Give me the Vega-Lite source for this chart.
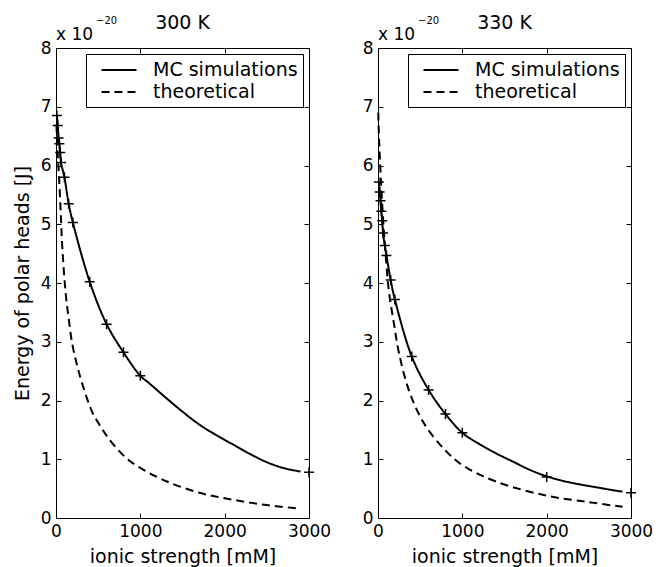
{
  "$schema": "https://vega.github.io/schema/vega-lite/v6.json",
  "background": "white",
  "padding": {"left": 12, "top": 13, "right": 8, "bottom": 2},
  "datasets": {
    "lines": [
      {"T": "300 K", "series": "MC simulations", "I": 10, "E": 6.85},
      {"T": "300 K", "series": "MC simulations", "I": 20, "E": 6.68},
      {"T": "300 K", "series": "MC simulations", "I": 30, "E": 6.47},
      {"T": "300 K", "series": "MC simulations", "I": 40, "E": 6.37},
      {"T": "300 K", "series": "MC simulations", "I": 50, "E": 6.22},
      {"T": "300 K", "series": "MC simulations", "I": 60, "E": 6.05},
      {"T": "300 K", "series": "MC simulations", "I": 100, "E": 5.8},
      {"T": "300 K", "series": "MC simulations", "I": 150, "E": 5.35},
      {"T": "300 K", "series": "MC simulations", "I": 200, "E": 5.03},
      {"T": "300 K", "series": "MC simulations", "I": 400, "E": 4.02},
      {"T": "300 K", "series": "MC simulations", "I": 600, "E": 3.3},
      {"T": "300 K", "series": "MC simulations", "I": 800, "E": 2.82},
      {"T": "300 K", "series": "MC simulations", "I": 1000, "E": 2.42},
      {"T": "300 K", "series": "MC simulations", "I": 1100, "E": 2.3},
      {"T": "300 K", "series": "MC simulations", "I": 1300, "E": 2.05},
      {"T": "300 K", "series": "MC simulations", "I": 1500, "E": 1.81},
      {"T": "300 K", "series": "MC simulations", "I": 1700, "E": 1.59},
      {"T": "300 K", "series": "MC simulations", "I": 1900, "E": 1.41},
      {"T": "300 K", "series": "MC simulations", "I": 2100, "E": 1.25},
      {"T": "300 K", "series": "MC simulations", "I": 2300, "E": 1.09},
      {"T": "300 K", "series": "MC simulations", "I": 2500, "E": 0.95},
      {"T": "300 K", "series": "MC simulations", "I": 2700, "E": 0.85},
      {"T": "300 K", "series": "MC simulations", "I": 2900, "E": 0.79},
      {"T": "300 K", "series": "theoretical", "I": 5, "E": 6.7},
      {"T": "300 K", "series": "theoretical", "I": 10, "E": 6.5},
      {"T": "300 K", "series": "theoretical", "I": 20, "E": 6.2},
      {"T": "300 K", "series": "theoretical", "I": 36, "E": 5.8},
      {"T": "300 K", "series": "theoretical", "I": 56, "E": 5.2},
      {"T": "300 K", "series": "theoretical", "I": 75, "E": 4.6},
      {"T": "300 K", "series": "theoretical", "I": 115, "E": 3.82},
      {"T": "300 K", "series": "theoretical", "I": 150, "E": 3.4},
      {"T": "300 K", "series": "theoretical", "I": 193, "E": 2.96},
      {"T": "300 K", "series": "theoretical", "I": 250, "E": 2.6},
      {"T": "300 K", "series": "theoretical", "I": 312, "E": 2.28},
      {"T": "300 K", "series": "theoretical", "I": 430, "E": 1.8},
      {"T": "300 K", "series": "theoretical", "I": 510, "E": 1.6},
      {"T": "300 K", "series": "theoretical", "I": 600, "E": 1.4},
      {"T": "300 K", "series": "theoretical", "I": 710, "E": 1.2},
      {"T": "300 K", "series": "theoretical", "I": 850, "E": 1.0},
      {"T": "300 K", "series": "theoretical", "I": 990, "E": 0.86},
      {"T": "300 K", "series": "theoretical", "I": 1300, "E": 0.63},
      {"T": "300 K", "series": "theoretical", "I": 1700, "E": 0.43},
      {"T": "300 K", "series": "theoretical", "I": 2100, "E": 0.31},
      {"T": "300 K", "series": "theoretical", "I": 2500, "E": 0.22},
      {"T": "300 K", "series": "theoretical", "I": 2900, "E": 0.16},
      {"T": "330 K", "series": "MC simulations", "I": 10, "E": 5.72},
      {"T": "330 K", "series": "MC simulations", "I": 20, "E": 5.55},
      {"T": "330 K", "series": "MC simulations", "I": 30, "E": 5.4},
      {"T": "330 K", "series": "MC simulations", "I": 40, "E": 5.22},
      {"T": "330 K", "series": "MC simulations", "I": 50, "E": 5.06},
      {"T": "330 K", "series": "MC simulations", "I": 60, "E": 4.85},
      {"T": "330 K", "series": "MC simulations", "I": 80, "E": 4.64},
      {"T": "330 K", "series": "MC simulations", "I": 100, "E": 4.47},
      {"T": "330 K", "series": "MC simulations", "I": 150, "E": 4.05},
      {"T": "330 K", "series": "MC simulations", "I": 200, "E": 3.72},
      {"T": "330 K", "series": "MC simulations", "I": 400, "E": 2.75},
      {"T": "330 K", "series": "MC simulations", "I": 600, "E": 2.18},
      {"T": "330 K", "series": "MC simulations", "I": 800, "E": 1.77},
      {"T": "330 K", "series": "MC simulations", "I": 1000, "E": 1.45},
      {"T": "330 K", "series": "MC simulations", "I": 1200, "E": 1.26},
      {"T": "330 K", "series": "MC simulations", "I": 1400, "E": 1.1},
      {"T": "330 K", "series": "MC simulations", "I": 1600, "E": 0.96},
      {"T": "330 K", "series": "MC simulations", "I": 1800, "E": 0.82},
      {"T": "330 K", "series": "MC simulations", "I": 2000, "E": 0.71},
      {"T": "330 K", "series": "MC simulations", "I": 2200, "E": 0.63},
      {"T": "330 K", "series": "MC simulations", "I": 2400, "E": 0.57},
      {"T": "330 K", "series": "MC simulations", "I": 2600, "E": 0.52},
      {"T": "330 K", "series": "MC simulations", "I": 2800, "E": 0.47},
      {"T": "330 K", "series": "MC simulations", "I": 2900, "E": 0.45},
      {"T": "330 K", "series": "theoretical", "I": 3, "E": 6.9},
      {"T": "330 K", "series": "theoretical", "I": 10, "E": 6.55},
      {"T": "330 K", "series": "theoretical", "I": 20, "E": 6.2},
      {"T": "330 K", "series": "theoretical", "I": 40, "E": 5.6},
      {"T": "330 K", "series": "theoretical", "I": 60, "E": 5.1},
      {"T": "330 K", "series": "theoretical", "I": 100, "E": 4.3},
      {"T": "330 K", "series": "theoretical", "I": 130, "E": 3.85},
      {"T": "330 K", "series": "theoretical", "I": 190, "E": 3.3},
      {"T": "330 K", "series": "theoretical", "I": 250, "E": 2.8},
      {"T": "330 K", "series": "theoretical", "I": 370, "E": 2.16},
      {"T": "330 K", "series": "theoretical", "I": 550, "E": 1.6},
      {"T": "330 K", "series": "theoretical", "I": 800, "E": 1.15},
      {"T": "330 K", "series": "theoretical", "I": 1000, "E": 0.9},
      {"T": "330 K", "series": "theoretical", "I": 1400, "E": 0.62},
      {"T": "330 K", "series": "theoretical", "I": 2000, "E": 0.38},
      {"T": "330 K", "series": "theoretical", "I": 2500, "E": 0.27},
      {"T": "330 K", "series": "theoretical", "I": 2900, "E": 0.19}
    ],
    "points": [
      {"T": "300 K", "I": 10, "E": 6.85},
      {"T": "300 K", "I": 20, "E": 6.68},
      {"T": "300 K", "I": 30, "E": 6.47},
      {"T": "300 K", "I": 40, "E": 6.37},
      {"T": "300 K", "I": 50, "E": 6.22},
      {"T": "300 K", "I": 60, "E": 6.05},
      {"T": "300 K", "I": 100, "E": 5.8},
      {"T": "300 K", "I": 150, "E": 5.35},
      {"T": "300 K", "I": 200, "E": 5.03},
      {"T": "300 K", "I": 400, "E": 4.02},
      {"T": "300 K", "I": 600, "E": 3.3},
      {"T": "300 K", "I": 800, "E": 2.82},
      {"T": "300 K", "I": 1000, "E": 2.42},
      {"T": "300 K", "I": 3000, "E": 0.78},
      {"T": "330 K", "I": 10, "E": 5.72},
      {"T": "330 K", "I": 20, "E": 5.55},
      {"T": "330 K", "I": 30, "E": 5.4},
      {"T": "330 K", "I": 40, "E": 5.22},
      {"T": "330 K", "I": 50, "E": 5.06},
      {"T": "330 K", "I": 60, "E": 4.85},
      {"T": "330 K", "I": 80, "E": 4.64},
      {"T": "330 K", "I": 100, "E": 4.47},
      {"T": "330 K", "I": 150, "E": 4.05},
      {"T": "330 K", "I": 200, "E": 3.72},
      {"T": "330 K", "I": 400, "E": 2.75},
      {"T": "330 K", "I": 600, "E": 2.18},
      {"T": "330 K", "I": 800, "E": 1.77},
      {"T": "330 K", "I": 1000, "E": 1.45},
      {"T": "330 K", "I": 2000, "E": 0.7},
      {"T": "330 K", "I": 3000, "E": 0.43}
    ],
    "labels": [{"a": "x 10", "b": "−20", "t300": "300 K", "t330": "330 K"}]
  },
  "spacing": 69,
  "bounds": "flush",
  "resolve": {"legend": {"strokeDash": "independent"}},
  "hconcat": [
    {
      "width": 253,
      "height": 470,
      "resolve": {"axis": {"x": "independent", "y": "independent"}},
      "layer": [
        {
          "data": {"name": "lines"},
          "transform": [{"filter": "datum.T === '300 K'"}],
          "mark": {"type": "line", "color": "black", "strokeWidth": 2, "interpolate": "catmull-rom"},
          "encoding": {
            "x": {"field": "I", "type": "quantitative", "scale": {"domain": [0, 3000], "nice": false},
                  "axis": {"orient": "bottom", "values": [0, 1000, 2000, 3000], "format": "d", "title": "ionic strength [mM]"}},
            "y": {"field": "E", "type": "quantitative", "scale": {"domain": [0, 8], "nice": false},
                  "axis": {"orient": "left", "values": [0, 1, 2, 3, 4, 5, 6, 7, 8], "format": "d", "title": "Energy of polar heads [J]"}},
            "strokeDash": {"field": "series", "type": "nominal",
                  "scale": {"domain": ["MC simulations", "theoretical"], "range": [[1, 0], [8, 5]]},
                  "legend": {"title": null, "orient": "top-right"}}
          }
        },
        {
          "data": {"name": "points"},
          "transform": [{"filter": "datum.T === '300 K'"}],
          "mark": {"type": "point", "shape": "M-1,0H1M0,-1V1", "size": 100, "strokeWidth": 1.5, "color": "black", "filled": false, "opacity": 1},
          "encoding": {
            "x": {"field": "I", "type": "quantitative", "scale": {"domain": [0, 3000], "nice": false},
                  "axis": {"orient": "top", "values": [0, 1000, 2000, 3000], "labels": false, "title": null}},
            "y": {"field": "E", "type": "quantitative", "scale": {"domain": [0, 8], "nice": false},
                  "axis": {"orient": "right", "values": [0, 1, 2, 3, 4, 5, 6, 7, 8], "labels": false, "title": null}}
          }
        },
        {
          "data": {"name": "labels"},
          "mark": {"type": "text", "align": "left", "baseline": "alphabetic", "dy": -8, "fontSize": 17, "font": "DejaVu Sans", "color": "black"},
          "encoding": {
            "x": {"datum": 0, "type": "quantitative", "axis": null},
            "y": {"datum": 8, "type": "quantitative", "axis": null},
            "text": {"field": "a"}
          }
        },
        {
          "data": {"name": "labels"},
          "mark": {"type": "text", "align": "left", "baseline": "alphabetic", "dx": 40, "dy": -24, "fontSize": 10, "font": "DejaVu Sans", "color": "black"},
          "encoding": {
            "x": {"datum": 0, "type": "quantitative", "axis": null},
            "y": {"datum": 8, "type": "quantitative", "axis": null},
            "text": {"field": "b"}
          }
        },
        {
          "data": {"name": "labels"},
          "mark": {"type": "text", "align": "center", "baseline": "alphabetic", "dy": -19, "fontSize": 19, "font": "DejaVu Sans", "color": "black"},
          "encoding": {
            "x": {"datum": 1500, "type": "quantitative", "axis": null},
            "y": {"datum": 8, "type": "quantitative", "axis": null},
            "text": {"field": "t300"}
          }
        }
      ]
    },
    {
      "width": 253,
      "height": 470,
      "resolve": {"axis": {"x": "independent", "y": "independent"}},
      "layer": [
        {
          "data": {"name": "lines"},
          "transform": [{"filter": "datum.T === '330 K'"}],
          "mark": {"type": "line", "color": "black", "strokeWidth": 2, "interpolate": "catmull-rom"},
          "encoding": {
            "x": {"field": "I", "type": "quantitative", "scale": {"domain": [0, 3000], "nice": false},
                  "axis": {"orient": "bottom", "values": [0, 1000, 2000, 3000], "format": "d", "title": "ionic strength [mM]"}},
            "y": {"field": "E", "type": "quantitative", "scale": {"domain": [0, 8], "nice": false},
                  "axis": {"orient": "left", "values": [0, 1, 2, 3, 4, 5, 6, 7, 8], "format": "d", "title": null}},
            "strokeDash": {"field": "series", "type": "nominal",
                  "scale": {"domain": ["MC simulations", "theoretical"], "range": [[1, 0], [8, 5]]},
                  "legend": {"title": null, "orient": "top-right"}}
          }
        },
        {
          "data": {"name": "points"},
          "transform": [{"filter": "datum.T === '330 K'"}],
          "mark": {"type": "point", "shape": "M-1,0H1M0,-1V1", "size": 100, "strokeWidth": 1.5, "color": "black", "filled": false, "opacity": 1},
          "encoding": {
            "x": {"field": "I", "type": "quantitative", "scale": {"domain": [0, 3000], "nice": false},
                  "axis": {"orient": "top", "values": [0, 1000, 2000, 3000], "labels": false, "title": null}},
            "y": {"field": "E", "type": "quantitative", "scale": {"domain": [0, 8], "nice": false},
                  "axis": {"orient": "right", "values": [0, 1, 2, 3, 4, 5, 6, 7, 8], "labels": false, "title": null}}
          }
        },
        {
          "data": {"name": "labels"},
          "mark": {"type": "text", "align": "left", "baseline": "alphabetic", "dy": -8, "fontSize": 17, "font": "DejaVu Sans", "color": "black"},
          "encoding": {
            "x": {"datum": 0, "type": "quantitative", "axis": null},
            "y": {"datum": 8, "type": "quantitative", "axis": null},
            "text": {"field": "a"}
          }
        },
        {
          "data": {"name": "labels"},
          "mark": {"type": "text", "align": "left", "baseline": "alphabetic", "dx": 40, "dy": -24, "fontSize": 10, "font": "DejaVu Sans", "color": "black"},
          "encoding": {
            "x": {"datum": 0, "type": "quantitative", "axis": null},
            "y": {"datum": 8, "type": "quantitative", "axis": null},
            "text": {"field": "b"}
          }
        },
        {
          "data": {"name": "labels"},
          "mark": {"type": "text", "align": "center", "baseline": "alphabetic", "dy": -19, "fontSize": 19, "font": "DejaVu Sans", "color": "black"},
          "encoding": {
            "x": {"datum": 1500, "type": "quantitative", "axis": null},
            "y": {"datum": 8, "type": "quantitative", "axis": null},
            "text": {"field": "t330"}
          }
        }
      ]
    }
  ],
  "config": {
    "font": "DejaVu Sans",
    "view": {"stroke": "black", "strokeWidth": 1},
    "axis": {
      "domain": false,
      "grid": false,
      "tickSize": -5,
      "tickColor": "black",
      "tickWidth": 1,
      "labelFont": "DejaVu Sans",
      "labelFontSize": 17,
      "labelColor": "black",
      "labelPadding": 10,
      "labelFlush": false,
      "labelOverlap": false,
      "titleFont": "DejaVu Sans",
      "titleFontSize": 19,
      "titleFontWeight": "normal",
      "titleColor": "black",
      "titlePadding": 8
    },
    "legend": {
      "labelFont": "DejaVu Sans",
      "labelFontSize": 19,
      "labelColor": "black",
      "symbolType": "M-1.75,0H1.75",
      "symbolSize": 400,
      "symbolStrokeWidth": 2,
      "symbolStrokeColor": "black",
      "strokeColor": "black",
      "fillColor": "white",
      "padding": 5,
      "offset": 6,
      "symbolOffset": 17,
      "labelOffset": 23,
      "rowPadding": 1,
      "cornerRadius": 0
    }
  }
}
